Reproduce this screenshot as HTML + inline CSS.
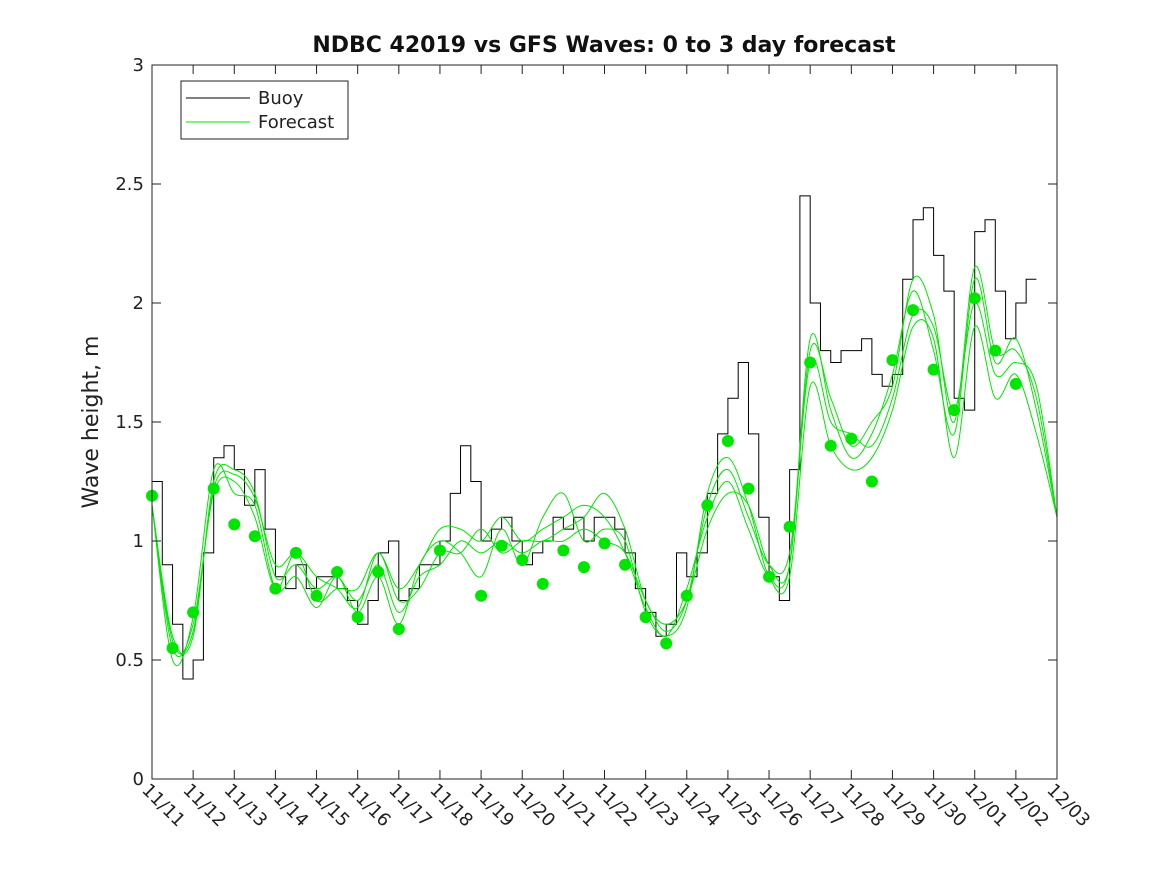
<!DOCTYPE html>
<html><head><meta charset="utf-8"><style>
body{margin:0;background:#fff}
svg{display:block;font-family:"DejaVu Sans","Liberation Sans",sans-serif}
</style></head><body>
<svg id="chart" width="1167" height="875" viewBox="0 0 1167 875">
<rect width="1167" height="875" fill="#fff"/>
<text x="604" y="52" text-anchor="middle" font-size="22" font-weight="bold" fill="#111">NDBC 42019 vs GFS Waves: 0 to 3 day forecast</text>
<text transform="translate(98,422) rotate(-90)" text-anchor="middle" font-size="22" fill="#222">Wave height, m</text>
<g id="plot"></g>
<g id="axes"></g>
<g>
<rect x="181" y="81" width="167" height="58" fill="#fff" stroke="#222" stroke-width="1"/>
<line x1="186" y1="98" x2="250" y2="98" stroke="#000"/>
<text x="258" y="104" font-size="18" fill="#222">Buoy</text>
<line x1="186" y1="122" x2="250" y2="122" stroke="#00e600"/>
<text x="258" y="128" font-size="18" fill="#222">Forecast</text>
</g>
</svg>
<script>
const xLabels=["11/11","11/12","11/13","11/14","11/15","11/16","11/17","11/18","11/19","11/20","11/21","11/22","11/23","11/24","11/25","11/26","11/27","11/28","11/29","11/30","12/01","12/02","12/03"];
const yTicks=[0,0.5,1,1.5,2,2.5,3];
const buoy=[1.25,0.9,0.65,0.42,0.5,0.95,1.35,1.4,1.3,1.15,1.3,1.05,0.85,0.8,0.9,0.8,0.85,0.85,0.8,0.75,0.65,0.75,0.95,1.0,0.75,0.8,0.9,0.9,1.0,1.2,1.4,1.25,1.0,1.05,1.1,1.0,0.9,0.95,1.0,1.1,1.05,1.1,1.0,1.1,1.1,1.05,0.95,0.8,0.7,0.6,0.65,0.95,0.85,0.95,1.2,1.45,1.6,1.75,1.45,1.1,0.85,0.75,1.3,2.45,2.0,1.8,1.75,1.8,1.8,1.85,1.7,1.65,1.7,2.1,2.35,2.4,2.2,2.05,1.6,1.55,2.3,2.35,2.05,1.85,2.0,2.1];
const runA=[1.15,0.6,0.6,1.25,1.3,1.2,0.85,0.9,0.8,0.85,0.75,0.9,0.7,0.85,0.9,1.0,0.95,1.0,0.95,1.0,1.0,1.05,1.0,0.95,0.75,0.62,0.75,1.15,1.3,1.1,0.9,0.95,1.75,1.5,1.45,1.4,1.6,1.95,1.9,1.55,2.0,1.7,1.75,1.65,1.1];
const runB=[1.15,0.55,0.65,1.2,1.25,1.1,0.8,0.95,0.75,0.8,0.8,0.95,0.8,0.9,1.05,1.05,1.0,1.1,1.0,1.05,1.1,1.15,1.1,0.95,0.72,0.6,0.8,1.1,1.25,1.05,0.85,0.9,1.85,1.55,1.35,1.45,1.7,2.05,1.8,1.45,2.1,1.75,1.85,1.55,1.1];
const runC=[1.15,0.5,0.68,1.3,1.2,1.15,0.8,0.85,0.72,0.85,0.7,0.85,0.65,0.9,1.0,0.95,0.85,1.05,0.9,1.1,1.2,1.0,1.05,1.0,0.7,0.6,0.72,1.2,1.35,1.15,0.85,0.85,1.65,1.4,1.3,1.35,1.55,1.9,1.85,1.35,1.9,1.6,1.7,1.45,1.1];
const runD=[1.15,0.58,0.62,1.22,1.28,1.18,0.9,0.95,0.85,0.8,0.72,0.95,0.75,0.8,0.95,0.95,1.05,0.95,1.0,1.0,1.05,1.1,1.2,1.05,0.75,0.65,0.75,1.05,1.2,1.15,0.9,0.9,1.8,1.6,1.4,1.5,1.65,2.1,1.95,1.5,2.15,1.8,1.8,1.6,1.1];
const dotVals=[1.19,0.55,0.70,1.22,1.07,1.02,0.80,0.95,0.77,0.87,0.68,0.87,0.63,null,0.96,null,0.77,0.98,0.92,0.82,0.96,0.89,0.99,0.90,0.68,0.57,0.77,1.15,1.42,1.22,0.85,1.06,1.75,1.40,1.43,1.25,1.76,1.97,1.72,1.55,2.02,1.80,1.66];
const X0=152,X1=1057,Y0=779,Y1=65;
const xs=d=>X0+d*(X1-X0)/22, ys=v=>Y0-v*(Y0-Y1)/3;
const NS="http://www.w3.org/2000/svg";
const plot=document.getElementById('plot'), axes=document.getElementById('axes');
function mk(t,a,p){const e=document.createElementNS(NS,t);for(const k in a)e.setAttribute(k,a[k]);p.appendChild(e);return e;}
function smooth(arr,step){let pts=arr.map((v,i)=>[xs(i*step),ys(v)]);let d="M"+pts[0];for(let i=0;i<pts.length-1;i++){const p0=pts[Math.max(0,i-1)],p1=pts[i],p2=pts[i+1],p3=pts[Math.min(pts.length-1,i+2)];d+=" C"+(p1[0]+(p2[0]-p0[0])/6)+","+(p1[1]+(p2[1]-p0[1])/6)+" "+(p2[0]-(p3[0]-p1[0])/6)+","+(p2[1]-(p3[1]-p1[1])/6)+" "+p2;}return d;}
let bd="";buoy.forEach((v,i)=>{const x0=xs(i*0.25),x1=xs((i+1)*0.25),y=ys(v);bd+=(i?"L":"M")+x0+","+y+" L"+x1+","+y+" ";});
const bl=mk('path',{d:bd,fill:'none',stroke:'#000','stroke-width':1},plot);


[runA,runB,runC,runD].forEach((r,k)=>{const p=mk('path',{d:smooth(r,0.5),fill:'none',stroke:'#00e600','stroke-width':1},plot);

});
dotVals.forEach((v,i)=>{if(v===null)return;const c=mk('circle',{cx:xs(i*0.5),cy:ys(v),r:6,fill:'#00e600'},plot);

});
const fr=mk('rect',{x:X0,y:Y1,width:X1-X0,height:Y0-Y1,fill:'none',stroke:'#222','stroke-width':1},axes);


xLabels.forEach((l,i)=>{const x=xs(i);
mk('line',{x1:x,y1:Y0,x2:x,y2:Y0-9,stroke:'#222'},axes);mk('line',{x1:x,y1:Y1,x2:x,y2:Y1+9,stroke:'#222'},axes);
const t=mk('text',{transform:`translate(${x-11},${791}) rotate(45)`,'font-size':18,fill:'#222'},axes);t.textContent=l;

});
yTicks.forEach(v=>{const y=ys(v);
mk('line',{x1:X0,y1:y,x2:X0+9,y2:y,stroke:'#222'},axes);mk('line',{x1:X1,y1:y,x2:X1-9,y2:y,stroke:'#222'},axes);
const t=mk('text',{x:X0-8,y:y+6,'text-anchor':'end','font-size':18,fill:'#222'},axes);t.textContent=String(v);

});
</script>
</body></html>
